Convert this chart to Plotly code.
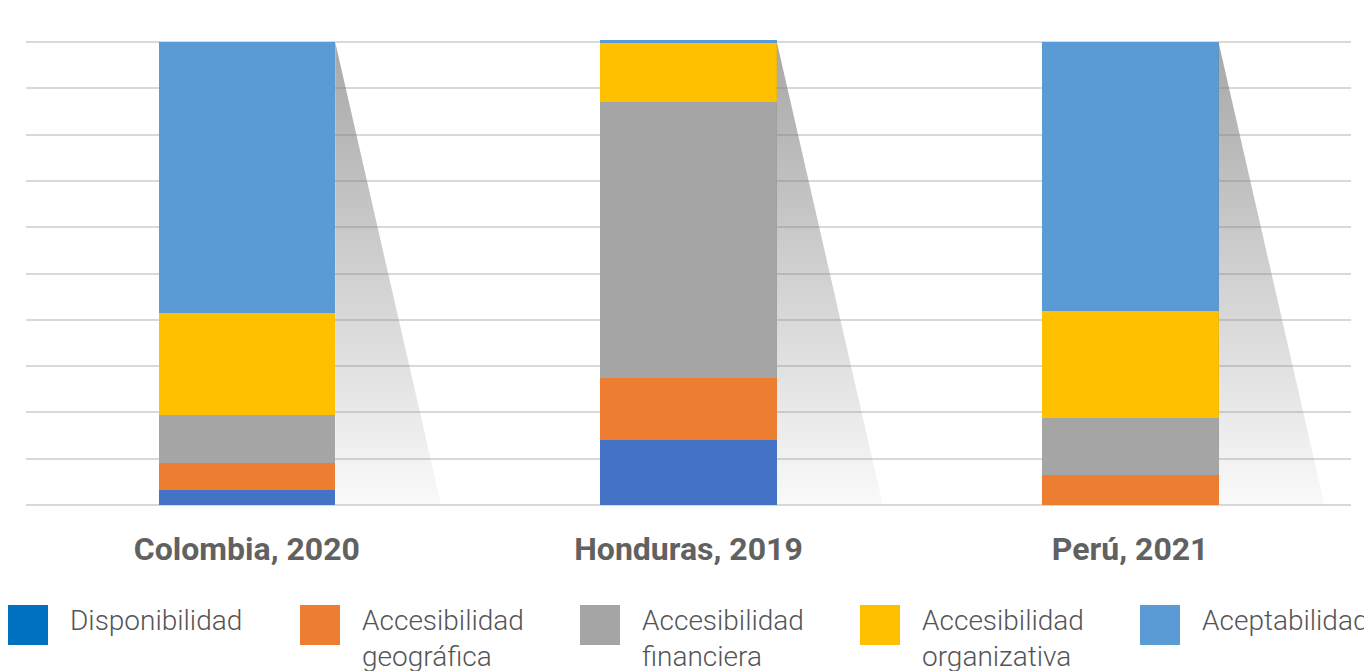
import plotly.graph_objects as go

# ---------------- data ----------------
categories = ["Colombia, 2020", "Honduras, 2019", "Perú, 2021"]
series_names = [
    "Disponibilidad",
    "Accesibilidad geográfica",
    "Accesibilidad financiera",
    "Accesibilidad organizativa",
    "Aceptabilidad",
]
legend_labels = [
    "Disponibilidad",
    "Accesibilidad<br>geográfica",
    "Accesibilidad<br>financiera",
    "Accesibilidad<br>organizativa",
    "Aceptabilidad",
]
disponibilidad = [3.2, 14.0, 0.0]
acc_geografica = [5.8, 13.4, 6.5]
acc_financiera = [10.4, 59.6, 12.3]
acc_organizativa = [22.0, 13.0, 23.1]
aceptabilidad = [58.6, 0.4, 58.1]
series_values = [disponibilidad, acc_geografica, acc_financiera, acc_organizativa, aceptabilidad]

# ---------------- style ----------------
bar_colors = ["#4472C4", "#ED7D31", "#A5A5A5", "#FFC000", "#5B9BD5"]
legend_colors = ["#0070C0", "#ED7D31", "#A5A5A5", "#FFC000", "#5B9BD5"]
BAR_W = 0.4
SHADOW_EXT = 0.24
Y_MAX = 100.45
W, H = 1364, 671
ML, MR, MT, MB = 26, 13, 40, 166
legend_sq_px = [8, 300, 580, 860, 1140]
SQ = 40
SQ_TOP = 605
TEXT_GAP = 20

plot_w = W - ML - MR
plot_h = H - MT - MB


def px_to_paper_x(px):
    return (px - ML) / plot_w


def px_to_paper_y(py):
    return (H - MB - py) / plot_h


xs = list(range(len(categories)))
fig = go.Figure()

# shadows (decorative perspective triangles next to each bar)
for i, x in enumerate(xs):
    total = min(sum(s[i] for s in series_values), 100)
    xr = x + BAR_W / 2
    fig.add_trace(go.Scatter(
        x=[xr, xr + SHADOW_EXT, xr, xr],
        y=[0, 0, total, 0],
        mode="lines",
        line=dict(width=0, color="rgba(0,0,0,0)"),
        fill="toself",
        fillgradient=dict(
            type="vertical",
            colorscale=[[0, "rgba(120,120,120,0.04)"], [1, "rgba(120,120,120,0.65)"]],
        ),
        showlegend=False,
        hoverinfo="skip",
    ))

for name, vals, col in zip(series_names, series_values, bar_colors):
    fig.add_trace(go.Bar(
        x=xs, y=vals, name=name, width=BAR_W,
        marker=dict(color=col, line=dict(width=0)),
        showlegend=False,
    ))

# manual legend (large squares, wrapped text)
shapes = []
annotations = []
for lab, col, pxl in zip(legend_labels, legend_colors, legend_sq_px):
    shapes.append(dict(
        type="rect", xref="paper", yref="paper",
        x0=px_to_paper_x(pxl), x1=px_to_paper_x(pxl + SQ),
        y0=px_to_paper_y(SQ_TOP + SQ), y1=px_to_paper_y(SQ_TOP),
        fillcolor=col, line=dict(width=0), layer="above",
    ))
    annotations.append(dict(
        xref="paper", yref="paper",
        x=px_to_paper_x(pxl + SQ + TEXT_GAP), y=px_to_paper_y(SQ_TOP - 3),
        xanchor="left", yanchor="top", align="left",
        text=lab, showarrow=False,
        font=dict(family="Roboto", size=28, weight=300, color="#555555"),
    ))

fig.update_layout(
    width=W, height=H,
    margin=dict(l=ML, r=MR, t=MT, b=MB),
    barmode="stack",
    plot_bgcolor="white", paper_bgcolor="white",
    shapes=shapes, annotations=annotations,
    showlegend=False,
    xaxis=dict(
        range=[-0.5, len(categories) - 0.5],
        tickmode="array", tickvals=xs, ticktext=categories,
        showgrid=False, zeroline=False, showline=False, ticks="",
        tickfont=dict(family="Roboto", size=32, weight="bold", color="#616161"),
        ticklabelstandoff=22,
    ),
    yaxis=dict(
        range=[0, Y_MAX], dtick=10, showticklabels=False,
        showgrid=True, gridcolor="#d9d9d9", gridwidth=2,
        zeroline=True, zerolinecolor="#d9d9d9", zerolinewidth=2,
        showline=False, ticks="",
    ),
)

fig.write_html(
    "out.html",
    config={"displayModeBar": False},
    post_script="document.body.style.margin='0';document.body.style.overflow='hidden';",
)
